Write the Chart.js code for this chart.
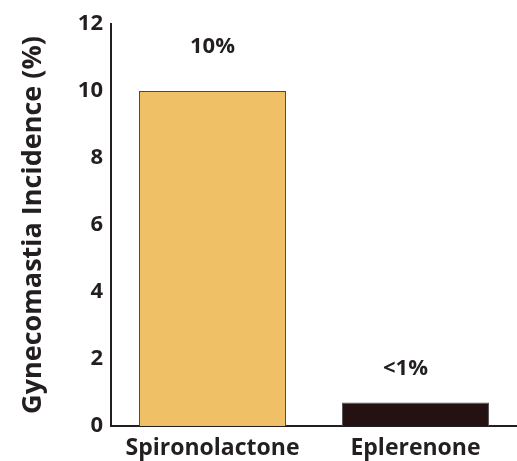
<!DOCTYPE html>
<html>
<head>
<meta charset="utf-8">
<script src="https://cdn.jsdelivr.net/npm/chart.js@4"></script>
<style>
  html, body { margin: 0; padding: 0; background: #ffffff; }
  #wrap { width: 517px; height: 461px; position: relative; }
</style>
</head>
<body>
<div id="wrap"><canvas id="c" width="517" height="461"></canvas></div>
<script>
// ---- data ----
const categories = ['Spironolactone', 'Eplerenone'];
const incidence = [10, 0.7];
const valueLabels = ['10%', '<1%'];
const yTicks = [0, 2, 4, 6, 8, 10, 12];
const yTitle = 'Gynecomastia Incidence (%)';

const textColor = '#231f20';
const fontFamily = '"Open Sans", "DejaVu Sans", sans-serif';

const labelPlugin = {
  id: 'valueLabels',
  afterDatasetsDraw(chart, args, opts) {
    const ctx = chart.ctx;
    const xs = chart.scales.x, ys = chart.scales.y;
    ctx.save();
    ctx.fillStyle = textColor;
    ctx.font = 'bold 22px ' + fontFamily;
    ctx.textAlign = 'center';
    ctx.textBaseline = 'middle';
    valueLabels.forEach((t, i) => {
      const x = xs.getPixelForValue(i) + opts.dx[i];
      const y = ys.getPixelForValue(incidence[i]) - opts.dy[i];
      ctx.fillText(t, x, y);
    });
    ctx.restore();
  }
};

new Chart(document.getElementById('c'), {
  type: 'bar',
  data: {
    labels: categories,
    datasets: [{
      data: incidence,
      backgroundColor: ['#efc066', '#241111'],
      borderColor: ['#4a4a4a', '#555555'],
      borderWidth: 1,
      categoryPercentage: 1,
      barPercentage: 0.724
    }]
  },
  options: {
    responsive: false,
    animation: false,
    events: [],
    layout: { padding: { top: 24, left: 0, right: 0, bottom: 0 } },
    plugins: {
      legend: { display: false },
      tooltip: { enabled: false },
      valueLabels: { dx: [0, -10], dy: [44, 34] }
    },
    scales: {
      x: {
        grid: { display: false, drawTicks: false },
        border: { display: true, color: textColor, width: 2 },
        ticks: {
          color: textColor,
          font: { family: fontFamily, size: 23, weight: 'bold' },
          padding: 9,
          maxRotation: 0,
          autoSkip: false
        },
        afterFit(scale) { scale.height = 35; }
      },
      y: {
        min: 0,
        max: 12,
        afterBuildTicks(scale) { scale.ticks = yTicks.map(v => ({ value: v })); },
        grid: { display: false, drawTicks: false },
        border: { display: true, color: textColor, width: 2 },
        ticks: {
          color: textColor,
          font: { family: fontFamily, size: 22, weight: 'bold' },
          padding: 8
        },
        title: {
          display: true,
          text: yTitle,
          color: textColor,
          font: { family: fontFamily, size: 27, weight: 'bold' },
          padding: { top: 17, bottom: 0 }
        },
        afterFit(scale) { scale.width = 111; }
      }
    }
  },
  plugins: [labelPlugin]
});
</script>
</body>
</html>
